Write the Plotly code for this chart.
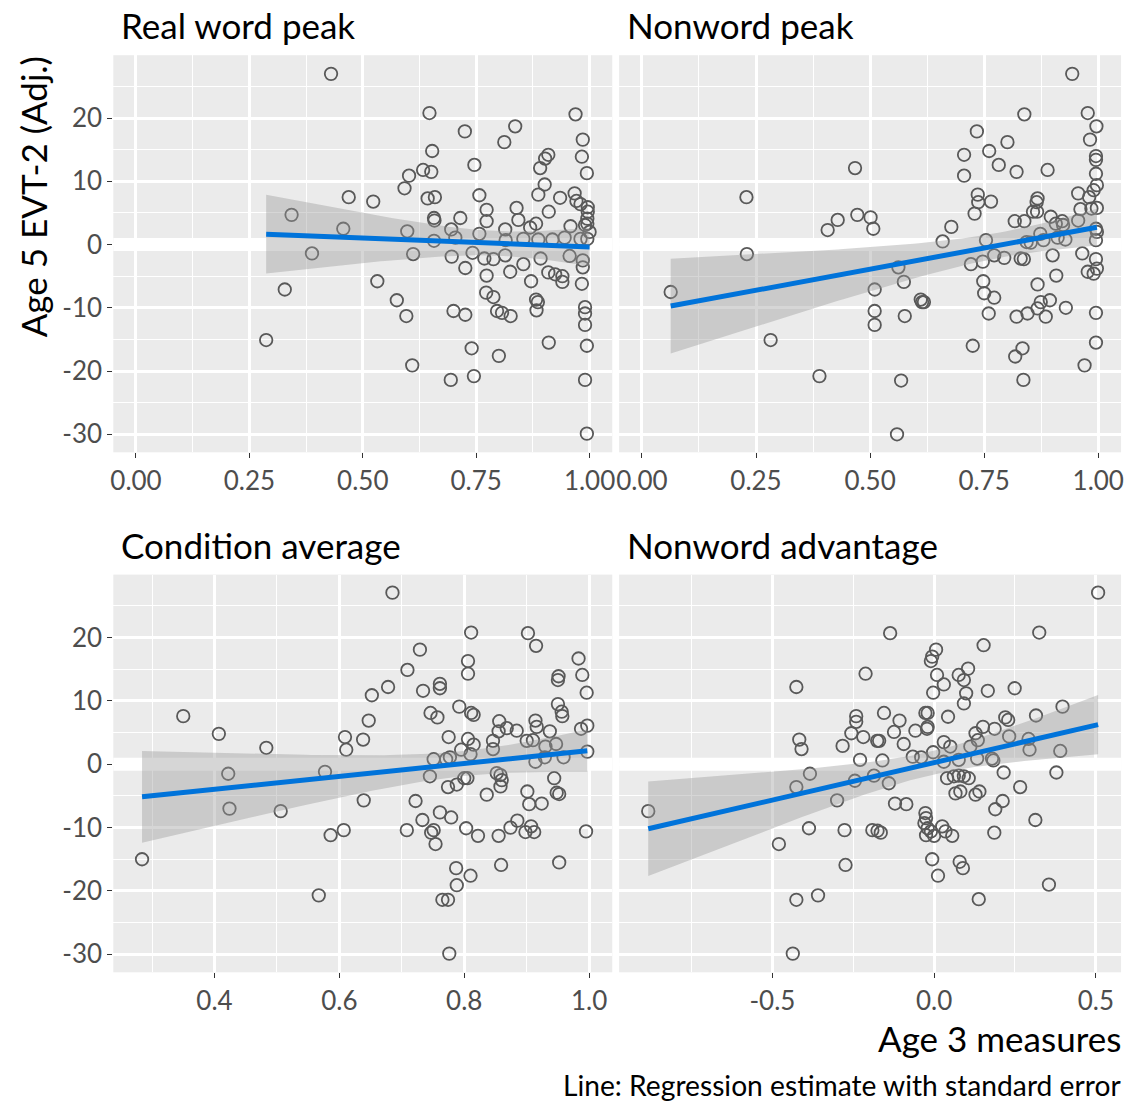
import numpy as np
import plotly.graph_objects as go

# ---------------- data ----------------
rw_x = [0.43, 0.647, 0.653, 0.633, 0.651, 0.602, 0.592, 0.469, 0.523, 0.643, 0.659, 0.343, 0.657, 0.658,
        0.457, 0.598, 0.657, 0.388, 0.611, 0.328, 0.532, 0.575, 0.596, 0.609, 0.287,
        0.725, 0.836, 0.812, 0.746, 0.757, 0.773, 0.773, 0.715, 0.839, 0.843, 0.695, 0.704, 0.757, 0.814,
        0.815, 0.854, 0.696, 0.742, 0.726, 0.768, 0.788, 0.814, 0.854, 0.773, 0.825, 0.772, 0.788, 0.796,
        0.807, 0.826, 0.700, 0.726, 0.740, 0.800, 0.694, 0.745,
        0.969, 0.985, 0.983, 0.994, 0.909, 0.902, 0.891, 0.901, 0.887, 0.935, 0.910, 0.967, 0.971, 0.98,
        0.996, 0.996, 0.995, 0.995, 0.99, 1.0, 0.995, 0.882, 0.869, 0.958, 0.887, 0.918, 0.945, 0.98,
        0.892, 0.956, 0.985, 0.985, 0.871, 0.909, 0.924, 0.94, 0.94, 0.983, 0.882, 0.886, 0.883, 0.99,
        0.99, 0.99, 0.910, 0.994, 0.99, 0.994]
rw_y = [27.0, 20.8, 14.8, 11.8, 11.5, 10.9, 8.9, 7.5, 6.8, 7.3, 7.5, 4.7, 4.2, 3.8,
        2.5, 2.1, 0.6, -1.4, -1.5, -7.1, -5.8, -8.8, -11.3, -19.1, -15.1,
        17.9, 18.7, 16.2, 12.6, 7.8, 5.5, 3.7, 4.2, 5.8, 3.9, 2.4, 1.1, 1.7, 2.4,
        0.7, 0.9, -1.9, -1.3, -3.7, -2.2, -2.3, -1.7, -3.1, -4.9, -4.3, -7.6, -8.3, -10.5,
        -10.8, -11.3, -10.5, -11.1, -16.4, -17.6, -21.4, -20.8,
        20.6, 16.6, 13.9, 11.3, 14.2, 13.6, 12.1, 9.5, 7.9, 7.4, 5.2, 8.1, 6.9, 6.4,
        5.9, 5.2, 4.1, 3.3, 3.1, 2.0, 0.9, 3.3, 2.7, 2.9, 0.8, 0.8, 1.1, 0.9,
        -2.2, -1.8, -2.5, -3.6, -5.8, -4.4, -4.7, -5.0, -5.9, -6.2, -8.7, -9.1, -10.4, -9.9,
        -10.9, -12.7, -15.5, -16.0, -21.4, -29.9]

nw_x = [0.063, 0.229, 0.230, 0.282, 0.389, 0.467, 0.472, 0.501, 0.507, 0.429, 0.407, 0.51, 0.51, 0.51,
        0.562, 0.574, 0.576, 0.568, 0.559, 0.611, 0.614, 0.618, 0.659, 0.678, 0.734, 0.706, 0.706, 0.736,
        0.737, 0.729, 0.761, 0.765, 0.754, 0.721, 0.747, 0.748, 0.75, 0.76, 0.725,
        0.943, 0.838, 0.977, 0.996, 0.982, 0.801, 0.782, 0.821, 0.889, 0.995, 0.995, 0.995, 0.997, 0.99,
        0.867, 0.865, 0.857, 0.866, 0.896, 0.817, 0.838, 0.907, 0.921, 0.923, 0.956, 0.98, 0.985, 0.961,
        0.997, 0.956, 0.873, 0.843, 0.852, 0.88, 0.911, 0.928, 0.995, 0.997, 0.995, 0.772, 0.794, 0.83,
        0.837, 0.9, 0.965, 0.995, 0.997, 0.977, 0.99, 0.908, 0.867, 0.772, 0.874, 0.894, 0.867, 0.929,
        0.845, 0.821, 0.885, 0.995, 0.995, 0.834, 0.818, 0.97, 0.836]
nw_y = [-7.5, 7.5, -1.5, -15.1, -20.8, 12.1, 4.7, 4.3, 2.5, 3.9, 2.3, -7.1, -10.5, -12.7,
        -3.6, -5.9, -11.3, -21.5, -30.0, -8.7, -9.1, -9.1, 0.5, 2.8, 17.9, 14.2, 10.9, 7.9,
        6.7, 4.9, 14.8, 6.8, 0.7, -3.1, -2.7, -5.8, -7.7, -10.9, -16.0,
        27.0, 20.6, 20.8, 18.7, 16.6, 16.2, 12.6, 11.5, 11.8, 14.0, 13.4, 11.2, 9.4, 8.6,
        7.3, 6.7, 5.2, 5.2, 4.4, 3.7, 3.7, 3.3, 3.7, 3.1, 8.1, 7.5, 5.7, 5.6,
        5.8, 3.8, 1.7, 0.4, 0.3, 0.7, 1.1, 0.8, 2.5, 2.0, 0.7, -1.7, -2.1, -2.2,
        -2.3, -1.7, -1.4, -2.3, -3.8, -4.3, -4.6, -4.9, -6.3, -8.4, -9.1, -8.8, -10.1, -10.0,
        -10.9, -11.4, -11.4, -10.8, -15.5, -16.4, -17.7, -19.1, -21.4]

ca_x = [0.284, 0.350, 0.407, 0.422, 0.424, 0.483, 0.506, 0.567, 0.577, 0.586, 0.607, 0.609, 0.611, 0.638,
        0.647, 0.652, 0.639,
        0.685, 0.678, 0.709, 0.729, 0.734, 0.761, 0.761, 0.746, 0.757, 0.811, 0.806, 0.806, 0.792, 0.811,
        0.815, 0.775, 0.806, 0.815, 0.795, 0.751, 0.771, 0.777, 0.81, 0.745, 0.774, 0.788, 0.8, 0.805,
        0.836, 0.722, 0.761, 0.779, 0.733, 0.708, 0.751, 0.747, 0.754, 0.803, 0.822, 0.787, 0.81, 0.788,
        0.765, 0.774, 0.776,
        0.902, 0.915, 0.983, 0.989, 0.951, 0.95, 0.996, 0.950, 0.956, 0.957, 0.856, 0.855, 0.868, 0.884,
        0.846, 0.846, 0.914, 0.916, 0.937, 0.9, 0.91, 0.947, 0.93, 0.929, 0.914, 0.959, 0.987, 0.997,
        0.997, 0.852, 0.858, 0.86, 0.858, 0.944, 0.948, 0.952, 0.901, 0.904, 0.924, 0.885, 0.874, 0.855,
        0.898, 0.907, 0.912, 0.995, 0.859, 0.952]
ca_y = [-15.0, 7.6, 4.8, -1.5, -7.0, 2.6, -7.4, -20.7, -1.2, -11.2, -10.4, 4.3, 2.3, 3.9,
        6.9, 10.9, -5.7,
        27.1, 12.2, 14.9, 18.1, 11.6, 12.7, 12.0, 8.1, 7.4, 20.8, 16.3, 14.3, 9.1, 8.1,
        7.8, 4.3, 4.0, 3.1, 2.3, 0.8, 0.8, 1.1, 1.6, -1.9, -3.6, -3.2, -2.2, -2.2,
        -4.8, -5.8, -7.6, -8.4, -8.8, -10.4, -10.4, -10.8, -12.6, -10.1, -11.3, -16.4, -17.6, -19.1,
        -21.4, -21.4, -29.9,
        20.7, 18.7, 16.7, 14.1, 13.9, 13.3, 11.3, 9.5, 8.3, 7.6, 6.8, 5.2, 5.7, 5.3,
        3.7, 2.4, 6.9, 5.9, 5.2, 3.7, 3.8, 3.2, 2.8, 1.1, 0.4, 1.1, 5.6, 6.1,
        2.0, -1.4, -1.7, -2.5, -3.5, -2.2, -4.5, -4.7, -4.3, -6.3, -6.2, -8.9, -10.0, -11.3,
        -10.7, -9.8, -10.7, -10.6, -15.9, -15.5]

adv_x = [-0.884, -0.426, -0.417, -0.41, -0.384, -0.426, -0.48, -0.387, -0.426, -0.359, -0.437, -0.3, -0.277,
         -0.274, -0.283, -0.256, -0.241, -0.241, -0.219, -0.229, -0.245, -0.212,
         -0.136, 0.006, -0.006, -0.01, 0.009, 0.03, -0.003, 0.076, 0.092, 0.105, 0.099, 0.092, -0.155,
         -0.107, -0.027, -0.02, 0.043, -0.124, -0.058, -0.022, -0.02, -0.176, -0.17, -0.094, 0.03, 0.05,
         -0.003, -0.066, -0.04, 0.03, 0.076, -0.16, -0.186, -0.14, 0.04, 0.061, 0.076, 0.092, 0.107, 0.066,
         0.081, -0.121, -0.086, -0.027, -0.025, -0.03, -0.02, -0.01, -0.025, 0.0, 0.025, 0.035, 0.056,
         -0.191, -0.175, -0.165, -0.006, 0.012, 0.079, 0.089,
         0.507, 0.325, 0.153, 0.166, 0.249, 0.397, 0.315, 0.22, 0.229, 0.151, 0.187, 0.128, 0.135, 0.232,
         0.292, 0.295, 0.39, 0.112, 0.133, 0.179, 0.183, 0.215, 0.378, 0.266, 0.128, 0.14, 0.212, 0.189,
         0.313, 0.186, 0.355, 0.138]
adv_y = [-7.4, 12.2, 3.9, 2.4, -1.5, -3.6, -12.6, -10.1, -21.4, -20.7, -29.9, -5.7, -10.4,
         -15.9, 2.9, 4.9, 7.6, 6.7, 4.3, 0.7, -2.6, 14.3,
         20.7, 18.1, 17.0, 16.3, 14.1, 12.6, 11.3, 14.1, 13.3, 15.1, 11.2, 9.6, 8.1,
         6.9, 8.1, 8.1, 7.5, 5.1, 5.3, 5.6, 5.9, 3.7, 3.7, 3.2, 3.5, 2.8,
         1.9, 1.2, 1.1, 0.4, 0.7, 0.6, -1.8, -3.0, -2.2, -1.9, -1.8, -1.9, -2.2, -4.6,
         -4.3, -6.2, -6.3, -7.7, -8.5, -9.3, -10.1, -10.6, -11.2, -11.3, -9.8, -10.6, -11.3,
         -10.4, -10.5, -10.8, -15.0, -17.6, -15.4, -16.4,
         27.1, 20.8, 18.8, 11.6, 12.0, 9.1, 7.7, 7.4, 7.0, 5.9, 5.6, 4.9, 3.8, 4.4,
         4.0, 2.3, 2.1, 2.8, 0.9, 0.9, 0.6, -1.3, -1.3, -3.6, -4.8, -4.3, -5.8, -7.1,
         -8.8, -10.8, -19.0, -21.3]

panel_titles = ["Real word peak", "Nonword peak", "Condition average", "Nonword advantage"]
y_ticks = [-30, -20, -10, 0, 10, 20]
y_tick_text = ["-30", "-20", "-10", "0", "10", "20"]
top_x_ticks = [0.0, 0.25, 0.5, 0.75, 1.0]
top_x_text = ["0.00", "0.25", "0.50", "0.75", "1.00"]
ca_x_ticks = [0.4, 0.6, 0.8, 1.0]
ca_x_text = ["0.4", "0.6", "0.8", "1.0"]
adv_x_ticks = [-0.5, 0.0, 0.5]
adv_x_text = ["-0.5", "0.0", "0.5"]

# ---------------- style ----------------
W, H = 1135, 1101
FONT = "Lato, 'Open Sans', sans-serif"
BG = "#EBEBEB"
PT_COL = "#595959"
LINE_COL = "#0073DA"
RIBBON = "rgba(153,153,153,0.4)"
TITLE_SIZE = 35
TICK_SIZE = 26

col_px = [(110.9, 612.5), (619.4, 1124.0)]
row_px = [(55.2, 452.3), (574.6, 972.3)]
x_ranges = [[-0.05, 1.05], [-0.05, 1.05], [0.238, 1.037], [-0.974, 0.578]]
y_range = [-32.85, 29.95]


def smooth(x, y, t=1.98):
    x = np.asarray(x, float)
    y = np.asarray(y, float)
    n = len(x)
    b, a = np.polyfit(x, y, 1)
    xs = np.linspace(x.min(), x.max(), 80)
    fit = a + b * xs
    resid = y - (a + b * x)
    s = np.sqrt(np.sum(resid ** 2) / (n - 2))
    sxx = np.sum((x - x.mean()) ** 2)
    se = s * np.sqrt(1.0 / n + (xs - x.mean()) ** 2 / sxx)
    return xs, fit, fit - t * se, fit + t * se


data = [(rw_x, rw_y), (nw_x, nw_y), (ca_x, ca_y), (adv_x, adv_y)]
xticks = [top_x_ticks, top_x_ticks, ca_x_ticks, adv_x_ticks]
xtext = [top_x_text, top_x_text, ca_x_text, adv_x_text]
xminor = [0.125, 0.125, 0.1, 0.25]

fig = go.Figure()
layout = dict(
    width=W, height=H,
    margin=dict(l=0, r=0, t=0, b=0),
    paper_bgcolor="white", plot_bgcolor=BG,
    showlegend=False,
    font=dict(family=FONT, color="black"),
    shapes=[], annotations=[],
)

for i, ((px, py), title) in enumerate(zip(data, panel_titles)):
    r, c = divmod(i, 2)
    xn = "x" if i == 0 else f"x{i+1}"
    yn = "y" if i == 0 else f"y{i+1}"
    fig.add_trace(go.Scatter(x=px, y=py, mode="markers", xaxis=xn, yaxis=yn,
                             marker=dict(symbol="circle-open", size=12.5, color=PT_COL,
                                         line=dict(width=1.8, color=PT_COL)),
                             hoverinfo="skip"))
    xs, fit, lo, hi = smooth(px, py)
    fig.add_trace(go.Scatter(x=xs, y=lo, mode="lines", line=dict(width=0), xaxis=xn, yaxis=yn,
                             hoverinfo="skip"))
    fig.add_trace(go.Scatter(x=xs, y=hi, mode="lines", line=dict(width=0), fill="tonexty",
                             fillcolor=RIBBON, xaxis=xn, yaxis=yn, hoverinfo="skip"))
    fig.add_trace(go.Scatter(x=xs, y=fit, mode="lines", line=dict(width=5, color=LINE_COL),
                             xaxis=xn, yaxis=yn, hoverinfo="skip"))

    xkey = "xaxis" if i == 0 else f"xaxis{i+1}"
    ykey = "yaxis" if i == 0 else f"yaxis{i+1}"
    x0p, x1p = col_px[c]
    y0p, y1p = row_px[r]
    layout[xkey] = dict(
        domain=[x0p / W, x1p / W], anchor=yn, range=x_ranges[i],
        tickmode="array", tickvals=xticks[i], ticktext=xtext[i],
        showgrid=True, gridcolor="white", gridwidth=2.6,
        minor=dict(dtick=xminor[i], tick0=0, showgrid=True, gridcolor="white", gridwidth=1.3, ticks=""),
        zeroline=False, showline=False,
        ticks="outside", ticklen=5, tickwidth=1.3, tickcolor="#333333",
        tickfont=dict(family=FONT, size=TICK_SIZE, color="#4D4D4D"),
        fixedrange=True,
    )
    layout[ykey] = dict(
        domain=[1 - y1p / H, 1 - y0p / H], anchor=xn, range=y_range,
        tickmode="array", tickvals=y_ticks, ticktext=y_tick_text,
        showgrid=True, gridcolor="white", gridwidth=2.6,
        minor=dict(dtick=5, tick0=0, showgrid=True, gridcolor="white", gridwidth=1.3, ticks=""),
        zeroline=False, showline=False,
        ticks="outside" if c == 0 else "", ticklen=5, tickwidth=1.3, tickcolor="#333333",
        showticklabels=(c == 0),
        tickfont=dict(family=FONT, size=TICK_SIZE, color="#4D4D4D"),
        fixedrange=True,
    )
    layout["shapes"].append(dict(type="line", xref=f"{xn} domain", yref=yn, x0=0, x1=1, y0=0, y1=0,
                                 line=dict(color="white", width=13), layer="below"))
    layout["annotations"].append(dict(
        text=title, xref="paper", yref="paper",
        x=(x0p + 6) / W, y=1 - (y0p - 30) / H, xanchor="left", yanchor="middle",
        showarrow=False, font=dict(family=FONT, size=TITLE_SIZE, color="black")))

layout["annotations"].append(dict(
    text="Age 5 EVT-2 (Adj.)", xref="paper", yref="paper", x=30 / W, y=1 - 54 / H,
    xanchor="center", yanchor="top", textangle=-90, showarrow=False,
    font=dict(family=FONT, size=TITLE_SIZE, color="black")))
layout["annotations"].append(dict(
    text="Age 3 measures", xref="paper", yref="paper", x=1126 / W, y=1 - 1038 / H,
    xanchor="right", yanchor="middle", showarrow=False,
    font=dict(family=FONT, size=TITLE_SIZE, color="black")))
layout["annotations"].append(dict(
    text="Line: Regression estimate with standard error", xref="paper", yref="paper",
    x=1126 / W, y=1 - 1085 / H, xanchor="right", yanchor="middle", showarrow=False,
    font=dict(family=FONT, size=28.2, color="black")))

fig.update_layout(**layout)
fig.write_html("out.html")
